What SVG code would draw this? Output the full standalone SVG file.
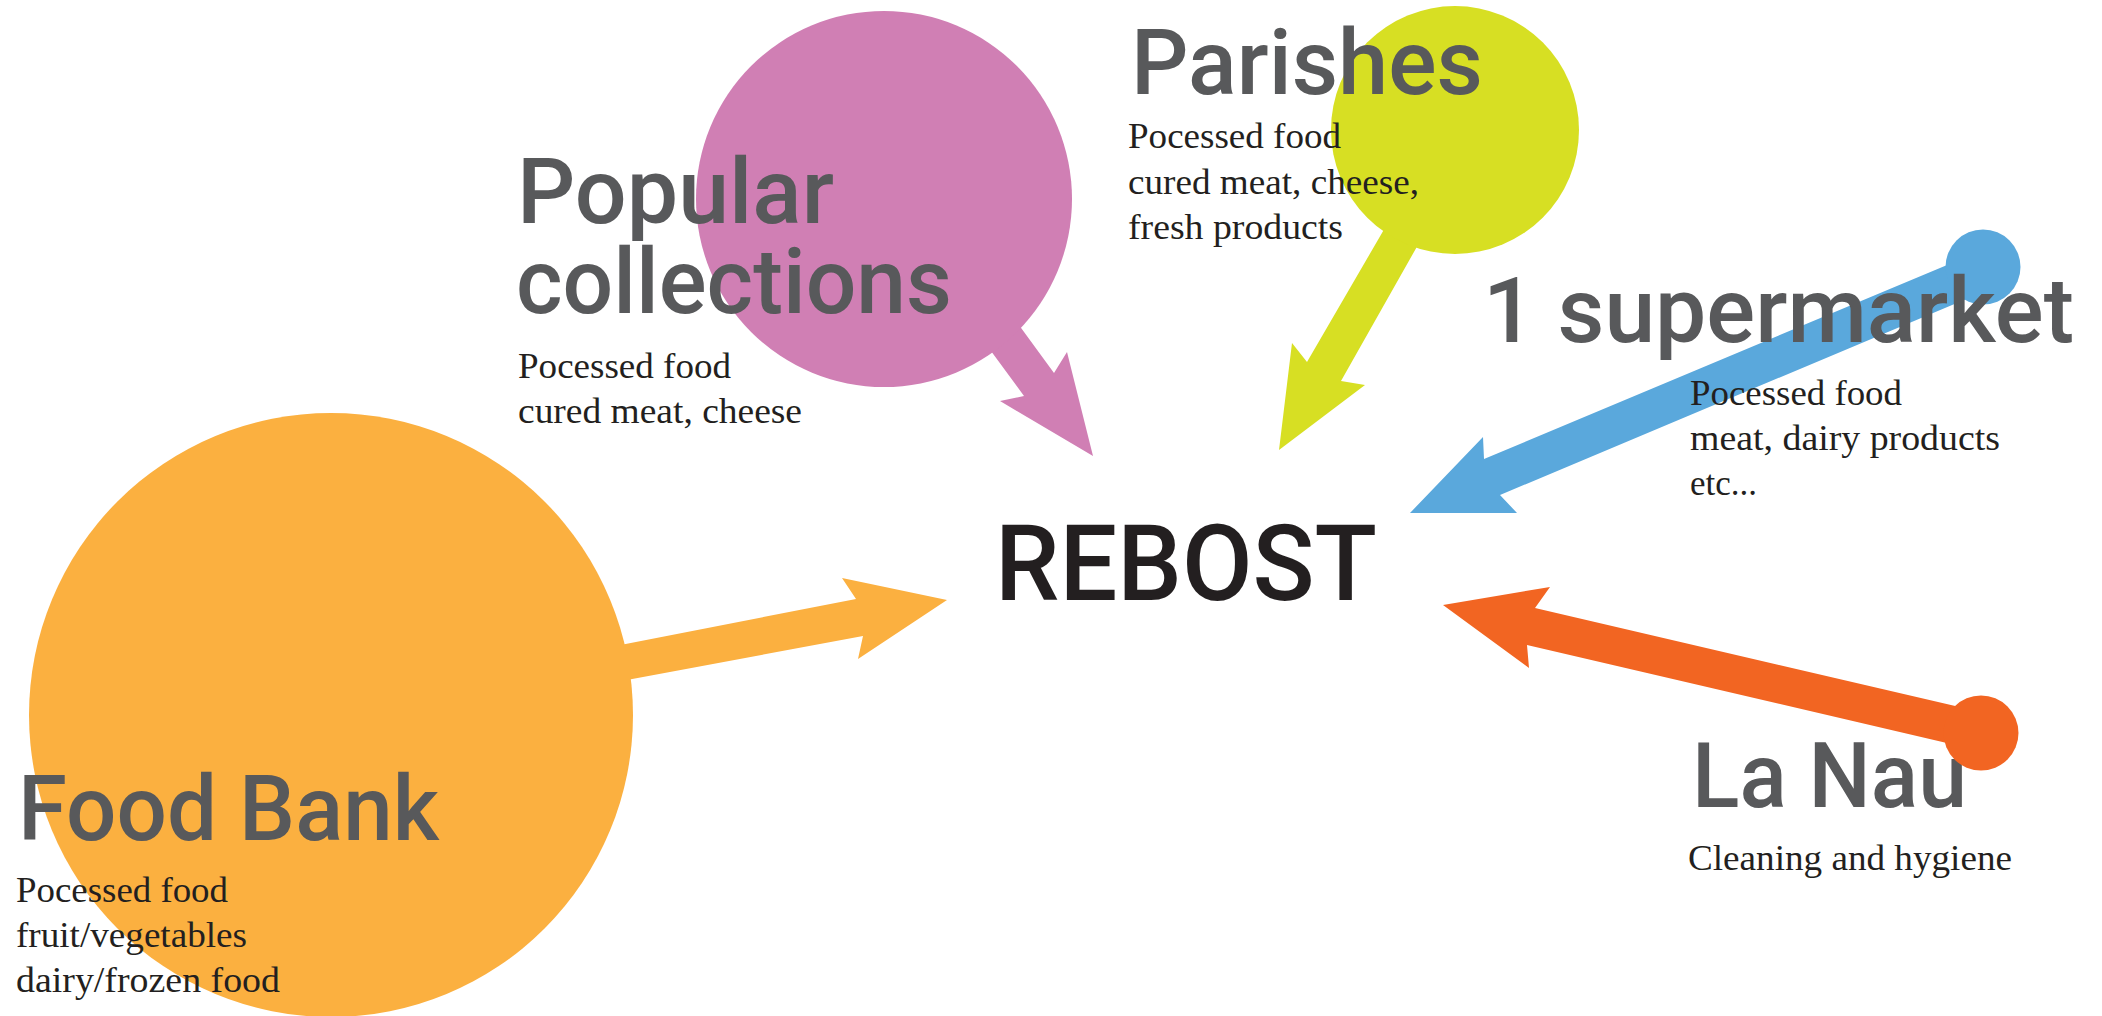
<svg xmlns="http://www.w3.org/2000/svg" width="2102" height="1016" viewBox="0 0 2102 1016">
<style>
.h{font-family:Roboto,"Liberation Sans",sans-serif;font-size:91px;font-weight:500;fill:#58595b}
.s{font-family:"Liberation Serif","DejaVu Serif",serif;font-size:35px;fill:#231f20}
.r{font-family:Roboto,"Liberation Sans",sans-serif;font-size:105px;font-weight:500;fill:#231f20}
</style>
<rect width="2102" height="1016" fill="#ffffff"/>
<g id="connectors">
<polygon id="arrow-foodbank" fill="#fbb040" points="600,649 856,599 842,578 947,600 858,659 863,636 600,685"/>
<polygon id="arrow-popular" fill="#d07fb4" points="981,273 1054,373 1067,352 1093,456 1000,401 1024,396 952,298"/>
<polygon id="arrow-parishes" fill="#d7df23" points="1418,171 1307,362 1292,343 1279,450 1365,385 1341,381 1449,190"/>
<polygon id="arrow-supermarket" fill="#5aa8dc" points="1983,250 1484,459 1483,437 1410,513 1517,513 1500,495 1983,292"/>
</g>
<g id="node-foodbank">
<circle cx="331" cy="715" r="302" fill="#fbb040"/>
<text class="h" x="18" y="840" textLength="421" lengthAdjust="spacingAndGlyphs">Food Bank</text>
<text class="s" x="16" y="902" textLength="212" lengthAdjust="spacingAndGlyphs">Pocessed food</text>
<text class="s" x="16" y="947" textLength="231" lengthAdjust="spacingAndGlyphs">fruit/vegetables</text>
<text class="s" x="16" y="992" textLength="264" lengthAdjust="spacingAndGlyphs">dairy/frozen food</text>
</g>
<g id="node-popular">
<circle cx="884" cy="199" r="188" fill="#d07fb4"/>
<text class="h" x="517" y="223" textLength="317" lengthAdjust="spacingAndGlyphs">Popular</text>
<text class="h" x="516" y="313" textLength="436" lengthAdjust="spacingAndGlyphs">collections</text>
<text class="s" x="518" y="378" textLength="213" lengthAdjust="spacingAndGlyphs">Pocessed food</text>
<text class="s" x="518" y="423" textLength="284" lengthAdjust="spacingAndGlyphs">cured meat, cheese</text>
</g>
<g id="node-parishes">
<circle cx="1455" cy="130" r="124" fill="#d7df23"/>
<text class="h" x="1131" y="94" textLength="352" lengthAdjust="spacingAndGlyphs">Parishes</text>
<text class="s" x="1128" y="148" textLength="213" lengthAdjust="spacingAndGlyphs">Pocessed food</text>
<text class="s" x="1128" y="194" textLength="291" lengthAdjust="spacingAndGlyphs">cured meat, cheese,</text>
<text class="s" x="1128" y="239" textLength="215" lengthAdjust="spacingAndGlyphs">fresh products</text>
</g>
<g id="node-supermarket">
<circle cx="1983" cy="267" r="37.5" fill="#5aa8dc"/>
<text class="h" x="1483" y="342" textLength="591" lengthAdjust="spacingAndGlyphs">1 supermarket</text>
<text class="s" x="1690" y="405" textLength="212" lengthAdjust="spacingAndGlyphs">Pocessed food</text>
<text class="s" x="1690" y="450" textLength="310" lengthAdjust="spacingAndGlyphs">meat, dairy products</text>
<text class="s" x="1690" y="495" textLength="67" lengthAdjust="spacingAndGlyphs">etc...</text>
</g>
<g id="node-lanau">
<text class="h" x="1692" y="807" textLength="275" lengthAdjust="spacingAndGlyphs">La Nau</text>
<text class="s" x="1688" y="870" textLength="324" lengthAdjust="spacingAndGlyphs">Cleaning and hygiene</text>
<polygon id="arrow-lanau" fill="#f26522" points="1443,605 1550,587 1535,608 1981,712 1981,751 1527,645 1529,668"/>
<circle cx="1981" cy="733" r="37.5" fill="#f26522"/>
</g>
<g id="node-rebost">
<text class="r" x="995" y="600" textLength="382" lengthAdjust="spacingAndGlyphs">REBOST</text>
</g>
</svg>
